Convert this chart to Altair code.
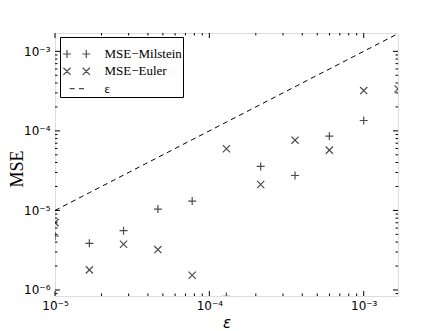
import altair as alt
import pandas as pd

# ---- data ----
eps = [1.0e-5, 1.67e-5, 2.78e-5, 4.64e-5, 7.74e-5, 1.29e-4, 2.15e-4, 3.59e-4, 5.99e-4, 1.0e-3, 1.67e-3]
mse_milstein = [4.77e-6, 3.86e-6, 5.57e-6, 1.04e-5, 1.31e-5, 8.3e-7, 3.57e-5, 2.75e-5, 8.59e-5, 1.35e-4, None]
mse_euler = [7.03e-6, 1.79e-6, 3.76e-6, 3.22e-6, 1.53e-6, 5.96e-5, 2.12e-5, 7.64e-5, 5.73e-5, 3.21e-4, 3.37e-4]
series_labels = ["MSE\u2212Milstein", "MSE\u2212Euler", "\u03b5"]
x_domain = [1.0e-5, 1.668e-3]
y_domain = [8.4e-7, 1.7e-3]
x_major = [1e-5, 1e-4, 1e-3]
y_major = [1e-6, 1e-5, 1e-4, 1e-3]
x_minor = [m * 10.0 ** e for e in (-5, -4, -3) for m in range(2, 10)
           if x_domain[0] < m * 10.0 ** e < x_domain[1]]
y_minor = [m * 10.0 ** e for e in (-7, -6, -5, -4, -3) for m in range(2, 10)
           if y_domain[0] < m * 10.0 ** e < y_domain[1]]

W, H = 343, 263
MAJ, MIN = 5, 2.5

PLUS = "M-1,0L1,0M0,-1L0,1"
CROSS = "M-0.9,-0.9L0.9,0.9M-0.9,0.9L0.9,-0.9"
PLUS2 = "M-3.41,0L-1.41,0M-2.41,-1L-2.41,1M1.41,0L3.41,0M2.41,-1L2.41,1"
CROSS2 = "M-3.31,-0.9L-1.51,0.9M-3.31,0.9L-1.51,-0.9M1.51,-0.9L3.31,0.9M1.51,0.9L3.31,-0.9"
DASH2 = "M-1.74,0L-0.49,0M0.59,0L1.84,0"

lab_expr = ("round(log(datum.value)/LN10) == -6 ? '10\u207b\u2076' : "
            "round(log(datum.value)/LN10) == -5 ? '10\u207b\u2075' : "
            "round(log(datum.value)/LN10) == -4 ? '10\u207b\u2074' : "
            "round(log(datum.value)/LN10) == -3 ? '10\u207b\u00b3' : ''")

xscale = alt.Scale(type="log", domain=x_domain, nice=False)
yscale = alt.Scale(type="log", domain=y_domain, nice=False)

xaxis = alt.Axis(values=x_major, labelExpr=lab_expr, tickSize=0, domain=False, grid=False,
                 labelPadding=4, labelFontSize=12, labelFont="DejaVu Sans", labelColor="black",
                 labelFlush=False, title="\u03b5", titleFont="DejaVu Sans", titleFontStyle="italic",
                 titleFontSize=15, titleFontWeight="normal", titleColor="black",
                 titleX=W / 2, titleY=26, titleBaseline="middle", titleAlign="center")
yaxis = alt.Axis(values=y_major, labelExpr=lab_expr, tickSize=0, domain=False, grid=False,
                 labelPadding=5, labelFontSize=12, labelFont="DejaVu Sans", labelColor="black",
                 labelFlush=False, title="MSE", titleFont="Liberation Serif",
                 titleFontSize=18, titleFontWeight="normal", titleColor="black",
                 titleX=-38, titleY=H / 2 + 4, titleAngle=270, titleBaseline="middle", titleAlign="center")

df_m = pd.DataFrame({"eps": eps, "mse": mse_milstein}).dropna()
df_e = pd.DataFrame({"eps": eps, "mse": mse_euler})
df_line = pd.DataFrame({"eps": eps, "val": eps})
df_leg = pd.DataFrame({"series": series_labels})

X = alt.X("eps:Q", scale=xscale, axis=xaxis)
Y = alt.Y("mse:Q", scale=yscale, axis=yaxis)

line = alt.Chart(df_line).mark_line(color="black", strokeWidth=1, strokeDash=[5, 4], clip=True).encode(
    x=X, y=alt.Y("val:Q", scale=yscale, axis=yaxis))
pts_m = alt.Chart(df_m).mark_point(filled=False, color="black", strokeWidth=1.2, size=64, clip=True).encode(
    x=X, y=Y, shape=alt.value(PLUS))
pts_e = alt.Chart(df_e).mark_point(filled=False, color="black", strokeWidth=1.2, size=64, clip=True).encode(
    x=X, y=Y, shape=alt.value(CROSS))

legend_layer = alt.Chart(df_leg).transform_filter("false").mark_point(
    filled=False, color="black", strokeWidth=1.2, size=64).encode(
    shape=alt.Shape("series:N",
                    scale=alt.Scale(domain=series_labels, range=[PLUS2, CROSS2, DASH2]),
                    legend=alt.Legend(title=" ", titleFontSize=1, titlePadding=8.5,
                                      orient="none", legendX=5, legendY=4,
                                      symbolSize=64, symbolStrokeWidth=1.2, symbolStrokeColor="black",
                                      symbolFillColor="white", labelFont="Liberation Serif",
                                      labelFontSize=13, labelColor="black", strokeColor="black",
                                      labelExpr="datum.label + '\u2009\u2009\u2009\u2009\u200a'",
                                      fillColor="white", padding=1, rowPadding=3.35,
                                      labelOffset=21.3, symbolOffset=9.15, cornerRadius=0)))

# inward ticks on all four sides
tx_maj = pd.DataFrame({"t": x_major})
tx_min = pd.DataFrame({"t": x_minor})
ty_maj = pd.DataFrame({"t": y_major})
ty_min = pd.DataFrame({"t": y_minor})

def xticks(df, length):
    TX = alt.X("t:Q", scale=xscale, axis=xaxis)
    b = alt.Chart(df).mark_rule(color="black", strokeWidth=1).encode(
        x=TX, y=alt.value(H), y2=alt.value(H - length))
    t = alt.Chart(df).mark_rule(color="black", strokeWidth=1).encode(
        x=TX, y=alt.value(0), y2=alt.value(length))
    return [b, t]

def yticks(df, length):
    TY = alt.Y("t:Q", scale=yscale, axis=yaxis)
    l = alt.Chart(df).mark_rule(color="black", strokeWidth=1).encode(
        y=TY, x=alt.value(0), x2=alt.value(length))
    r = alt.Chart(df).mark_rule(color="black", strokeWidth=1).encode(
        y=TY, x=alt.value(W), x2=alt.value(W - length))
    return [l, r]

ticks = xticks(tx_maj, MAJ) + xticks(tx_min, MIN) + yticks(ty_maj, MAJ) + yticks(ty_min, MIN)

chart = alt.layer(line, pts_m, pts_e, *ticks, legend_layer).properties(
    width=W, height=H,
    autosize=alt.AutoSizeParams(type="none"),
    padding={"left": 47, "top": 25, "right": 20, "bottom": 35},
).configure_view(stroke="black", strokeWidth=1).configure(background="white")

chart.save("out.html", embed_options={"renderer": "svg", "actions": False})
